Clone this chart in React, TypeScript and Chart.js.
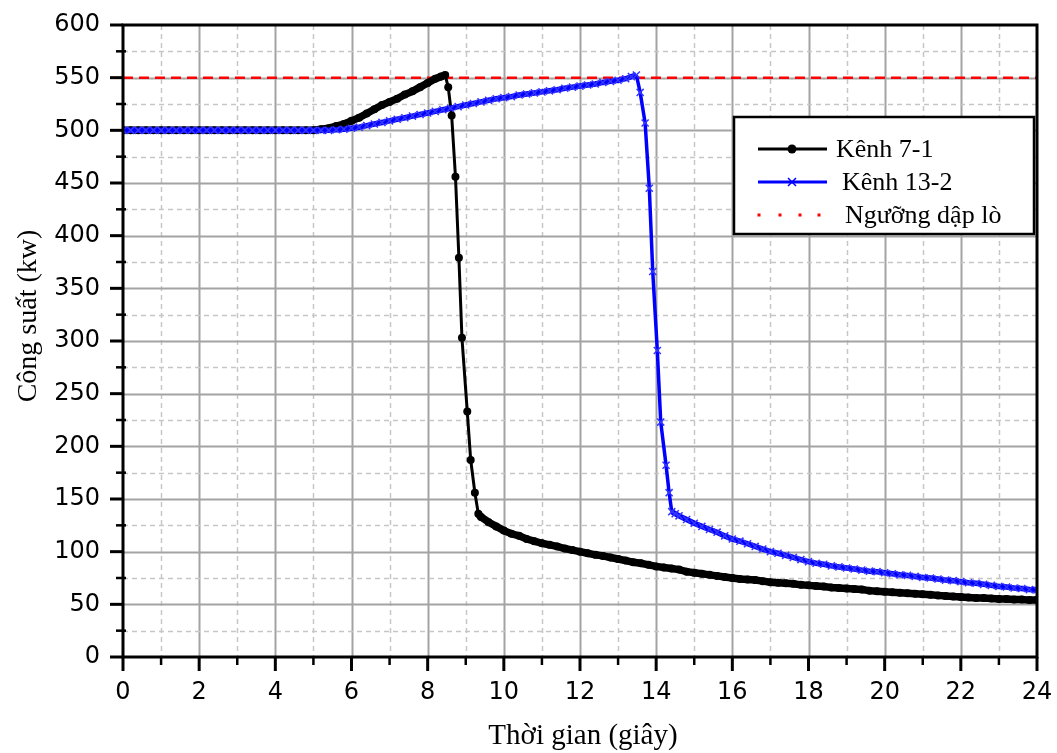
import React, { useEffect, useRef } from "react";
import { Chart, registerables } from "chart.js";

Chart.register(...registerables);

// ---------- data ----------
const time71 = [
  0, 0.2, 0.4, 0.6, 0.8, 1, 1.2, 1.4, 1.6, 1.8, 2, 2.2, 2.4, 2.6, 2.8, 3, 3.2, 3.4, 3.6, 3.8, 4, 4.2, 4.4, 4.6, 4.8, 5,
  5.2, 5.4, 5.6, 5.8, 6, 6.2, 6.4, 6.6, 6.8, 7, 7.2, 7.4, 7.6, 7.8, 8, 8.2,
  8.35, 8.46, 8.54, 8.63, 8.73, 8.82, 8.9, 9.04, 9.13, 9.24, 9.33, 9.4, 9.6, 9.8,
  10, 10.2, 10.4, 10.6, 10.8, 11, 11.2, 11.4, 11.6, 11.8,
  12, 12.2, 12.4, 12.6, 12.8, 13, 13.2, 13.4, 13.6, 13.8,
  14, 14.2, 14.4, 14.6, 14.8, 15, 15.2, 15.4, 15.6, 15.8,
  16, 16.2, 16.4, 16.6, 16.8, 17, 17.2, 17.4, 17.6, 17.8,
  18, 18.2, 18.4, 18.6, 18.8, 19, 19.2, 19.4, 19.6, 19.8,
  20, 20.2, 20.4, 20.6, 20.8, 21, 21.2, 21.4, 21.6, 21.8,
  22, 22.2, 22.4, 22.6, 22.8, 23, 23.2, 23.4, 23.6, 23.8, 24,
];
const power71 = [
  500, 500, 500, 500, 500, 500, 500, 500, 500, 500, 500, 500, 500, 500, 500, 500, 500, 500, 500, 500, 500, 500, 500, 500, 500, 500,
  501, 502, 504, 506, 509, 512, 516, 520, 524, 527, 530, 534, 537, 541, 545, 549,
  551, 552.5, 541, 514, 456, 379, 303, 233, 187, 156, 136, 133, 128, 124,
  120, 117, 115, 112, 110, 108, 106.5, 105, 103, 101.5,
  100, 98.5, 97, 96, 94.5, 93, 91.5, 90, 89, 87.5,
  86, 85, 84, 83, 81, 80, 79, 78, 77, 76,
  75, 74, 73.5, 73, 72, 71, 70.5, 70, 69.5, 68.5,
  68, 67.5, 67, 66, 65.5, 65, 64.5, 64, 63, 62.5,
  62, 61.5, 61, 60.5, 60, 59.5, 59, 58.5, 58, 57.5,
  57, 56.5, 56, 56, 55.5, 55, 55, 54.5, 54.5, 54, 54,
];

const time132 = [
  0, 0.2, 0.4, 0.6, 0.8, 1, 1.2, 1.4, 1.6, 1.8, 2, 2.2, 2.4, 2.6, 2.8, 3, 3.2, 3.4, 3.6, 3.8, 4, 4.2, 4.4, 4.6, 4.8, 5, 5.2, 5.4,
  5.6, 5.8, 6, 6.2, 6.4, 6.6, 6.8, 7, 7.2, 7.4,
  7.6, 7.8, 8, 8.2, 8.4, 8.6, 8.8, 9, 9.2, 9.4,
  9.6, 9.8, 10, 10.2, 10.4, 10.6, 10.8, 11, 11.2, 11.4,
  11.6, 11.8, 12, 12.2, 12.4, 12.6, 12.8, 13, 13.2,
  13.35, 13.48, 13.58, 13.71, 13.82, 13.91, 14.03, 14.12, 14.26, 14.34, 14.41, 14.5, 14.6,
  14.8, 15, 15.2, 15.4, 15.6, 15.8, 16, 16.2, 16.4, 16.6,
  16.8, 17, 17.2, 17.4, 17.6, 17.8, 18, 18.2, 18.4, 18.6,
  18.8, 19, 19.2, 19.4, 19.6, 19.8, 20, 20.2, 20.4, 20.6,
  20.8, 21, 21.2, 21.4, 21.6, 21.8, 22, 22.2, 22.4, 22.6,
  22.8, 23, 23.2, 23.4, 23.6, 23.8, 24,
];
const power132 = [
  500, 500, 500, 500, 500, 500, 500, 500, 500, 500, 500, 500, 500, 500, 500, 500, 500, 500, 500, 500, 500, 500, 500, 500, 500, 500, 500, 500,
  500.5, 501, 502, 503, 504.5, 506, 507.5, 509, 510.5, 512,
  513.5, 515, 516.5, 518, 519.5, 521, 522.5, 524, 525.5, 527,
  528.5, 530, 531, 532, 533.5, 534.5, 535.5, 536.5, 537.5, 538.5,
  540, 541, 542, 543, 544, 545.5, 546.5, 547.5, 549,
  551, 552.5, 536, 507, 445, 366, 291, 223, 182, 156, 138, 136, 134,
  130.5, 127, 124, 121, 118.5, 115, 112, 110, 107.5, 105,
  102.5, 100, 98.5, 96.5, 94.5, 92.5, 90.5, 89, 88, 86.5,
  85.5, 84.5, 83.5, 82.5, 81.5, 81, 80, 79, 78, 77.5,
  76.5, 75.5, 75, 74, 73, 72.5, 71.5, 70.5, 70, 69,
  68, 67, 66.5, 65.5, 65, 64, 63.6,
];

const thresholdTime = [0, 24];
const thresholdPower = [550, 550];

const seriesNames = ["Kênh 7-1", "Kênh 13-2", "Ngưỡng dập lò"];
const xTitle = "Thời gian (giây)";
const yTitle = "Công suất (kw)";
const xMin = 0, xMax = 24, xStep = 2, xMinorStep = 1;
const yMin = 0, yMax = 600, yStep = 50, yMinorStep = 25;

const toXY = (t: number[], p: number[]) => t.map((v, i) => ({ x: v, y: p[i] }));

const SERIF = "'Liberation Serif', 'Times New Roman', serif";

// thicker stroke on shallow parts, where the original markers crowd into a band
const bandWidth = (thin: number, thick: number) => (c: any) => {
  const dx = Math.abs(c.p1.x - c.p0.x);
  const dy = Math.abs(c.p1.y - c.p0.y);
  return dy > dx * 1.5 ? thin : thick;
};

const decorPlugin = {
  id: "decor",
  beforeDatasetsDraw(chart: any) {
    const { ctx, chartArea: a, scales } = chart;
    const x = scales.x, y = scales.y;
    ctx.save();
    for (let v = xMin + xMinorStep; v < xMax; v += xMinorStep) {
      const px = Math.round(x.getPixelForValue(v)) + 0.5;
      const major = Math.abs(v / xStep - Math.round(v / xStep)) < 1e-6;
      ctx.beginPath();
      ctx.setLineDash(major ? [] : [5, 4]);
      ctx.strokeStyle = major ? "#a3a3a3" : "#c6c6c6";
      ctx.lineWidth = major ? 2 : 1.5;
      ctx.moveTo(px, a.top);
      ctx.lineTo(px, a.bottom);
      ctx.stroke();
    }
    for (let v = yMin + yMinorStep; v < yMax; v += yMinorStep) {
      const py = Math.round(y.getPixelForValue(v)) + 0.5;
      const major = Math.abs(v / yStep - Math.round(v / yStep)) < 1e-6;
      ctx.beginPath();
      ctx.setLineDash(major ? [] : [5, 4]);
      ctx.strokeStyle = major ? "#a3a3a3" : "#c6c6c6";
      ctx.lineWidth = major ? 2 : 1.5;
      ctx.moveTo(a.left, py);
      ctx.lineTo(a.right, py);
      ctx.stroke();
    }
    ctx.restore();
  },
  afterDatasetsDraw(chart: any) {
    const { ctx, chartArea: a, scales } = chart;
    const x = scales.x, y = scales.y;
    ctx.save();
    ctx.setLineDash([]);
    ctx.strokeStyle = "#000";
    ctx.lineWidth = 3;
    ctx.strokeRect(a.left, a.top, a.right - a.left, a.bottom - a.top);
    for (let v = xMin; v <= xMax + 1e-6; v += xMinorStep) {
      const px = x.getPixelForValue(v);
      const major = Math.abs(v / xStep - Math.round(v / xStep)) < 1e-6;
      ctx.beginPath();
      ctx.lineWidth = major ? 3 : 2.5;
      ctx.moveTo(px, a.bottom);
      ctx.lineTo(px, a.bottom + (major ? 14 : 8));
      ctx.stroke();
    }
    for (let v = yMin; v <= yMax + 1e-6; v += yMinorStep) {
      const py = y.getPixelForValue(v);
      const major = Math.abs(v / yStep - Math.round(v / yStep)) < 1e-6;
      ctx.beginPath();
      ctx.lineWidth = major ? 3 : 2.5;
      ctx.moveTo(a.left - (major ? 13 : 7), py);
      ctx.lineTo(a.left + (major ? 0 : 3), py);
      ctx.stroke();
    }
    // legend box
    const lx = 734, ly = 117, lw = 300, lh = 117;
    ctx.fillStyle = "#fff";
    ctx.fillRect(lx, ly, lw, lh);
    ctx.lineWidth = 2.5;
    ctx.strokeStyle = "#000";
    ctx.strokeRect(lx, ly, lw, lh);
    const rows = [149, 182, 215];
    const textX = [836, 842, 845];
    ctx.beginPath();
    ctx.strokeStyle = "#000";
    ctx.lineWidth = 3;
    ctx.moveTo(758, rows[0]);
    ctx.lineTo(827, rows[0]);
    ctx.stroke();
    ctx.beginPath();
    ctx.fillStyle = "#000";
    ctx.arc(792, rows[0], 4.5, 0, Math.PI * 2);
    ctx.fill();
    ctx.beginPath();
    ctx.strokeStyle = "#0000ff";
    ctx.lineWidth = 3;
    ctx.moveTo(758, rows[1]);
    ctx.lineTo(827, rows[1]);
    ctx.stroke();
    ctx.beginPath();
    ctx.lineWidth = 1.5;
    ctx.moveTo(788, rows[1] - 4);
    ctx.lineTo(796, rows[1] + 4);
    ctx.moveTo(796, rows[1] - 4);
    ctx.lineTo(788, rows[1] + 4);
    ctx.stroke();
    ctx.fillStyle = "#ff0000";
    [759, 780, 800, 819].forEach((dx) => ctx.fillRect(dx - 1.5, rows[2] - 1.5, 3, 3));
    ctx.fillStyle = "#000";
    ctx.font = `26px ${SERIF}`;
    ctx.textBaseline = "middle";
    ctx.textAlign = "left";
    seriesNames.forEach((n, i) => ctx.fillText(n, textX[i], rows[i] + 1));
    // axis titles
    ctx.font = `29px ${SERIF}`;
    ctx.textAlign = "center";
    ctx.fillText(xTitle, 583, 736);
    ctx.save();
    ctx.translate(29, 316);
    ctx.rotate(-Math.PI / 2);
    ctx.font = `28px ${SERIF}`;
    ctx.fillText(yTitle, 0, 0);
    ctx.restore();
    ctx.restore();
  },
};

export default function App() {
  const ref = useRef<HTMLCanvasElement | null>(null);
  useEffect(() => {
    if (!ref.current) return;
    const chart = new Chart(ref.current, {
      type: "line",
      data: {
        datasets: [
          {
            label: seriesNames[0],
            data: toXY(time71, power71),
            borderColor: "#000",
            backgroundColor: "#000",
            borderWidth: 3,
            segment: { borderWidth: bandWidth(3, 7.5) },
            pointStyle: "circle",
            pointRadius: 4,
            pointBorderWidth: 0,
            pointBackgroundColor: "#000",
            order: 1,
          },
          {
            label: seriesNames[1],
            data: toXY(time132, power132),
            borderColor: "#0000ff",
            backgroundColor: "#0000ff",
            borderWidth: 3.5,
            segment: { borderWidth: bandWidth(3.5, 5.5) },
            pointStyle: "crossRot",
            pointRadius: 5,
            pointBorderWidth: 1.5,
            pointBorderColor: "#3535ff",
            order: 0,
          },
          {
            label: seriesNames[2],
            data: toXY(thresholdTime, thresholdPower),
            borderColor: "#ff0000",
            borderWidth: 2.5,
            borderDash: [10, 6],
            pointRadius: 0,
            order: 2,
          },
        ],
      },
      options: {
        animation: false,
        responsive: false,
        layout: { padding: { left: 0, top: 25, right: 20, bottom: 0 } },
        plugins: { legend: { display: false }, tooltip: { enabled: false } },
        elements: { line: { tension: 0 } },
        scales: {
          x: {
            type: "linear",
            min: xMin,
            max: xMax,
            grid: { display: false, drawTicks: false, tickLength: 0 },
            border: { display: false },
            ticks: {
              stepSize: xStep,
              padding: 21,
              color: "#000",
              font: { family: "'DejaVu Sans', sans-serif", size: 24 },
              maxRotation: 0,
            },
            afterFit: (s: any) => {
              s.height = 96;
              s.paddingLeft = 0;
              s.paddingRight = 0;
            },
          },
          y: {
            type: "linear",
            min: yMin,
            max: yMax,
            grid: { display: false, drawTicks: false, tickLength: 0 },
            border: { display: false },
            ticks: {
              stepSize: yStep,
              padding: 23,
              color: "#000",
              font: { family: "'DejaVu Sans', sans-serif", size: 24 },
            },
            afterFit: (s: any) => {
              s.width = 123;
              s.paddingTop = 0;
              s.paddingBottom = 0;
            },
          },
        },
      },
      plugins: [decorPlugin],
    });
    return () => chart.destroy();
  }, []);
  return (
    <div style={{ position: "absolute", left: 0, top: 0, width: 1057, height: 753, background: "#fff" }}>
      <canvas ref={ref} width={1057} height={753} />
    </div>
  );
}
